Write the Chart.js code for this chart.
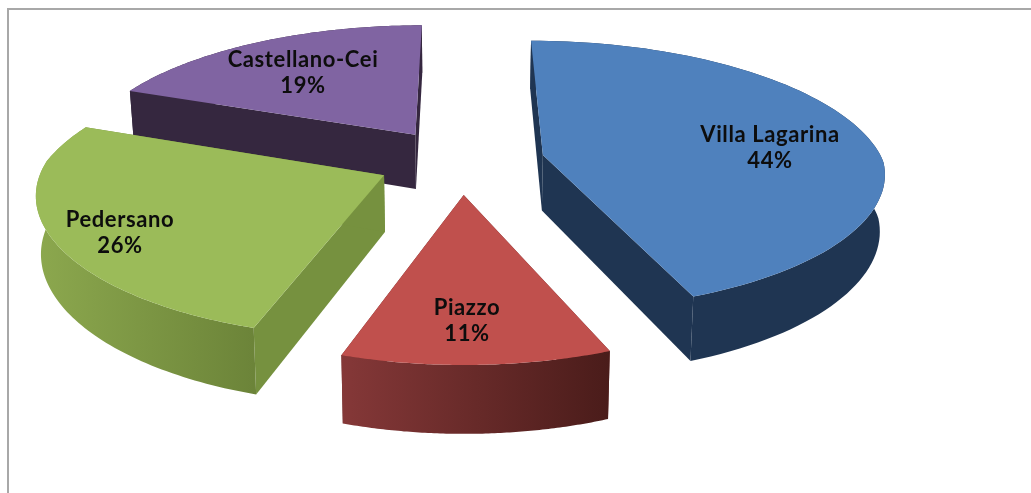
<!DOCTYPE html>
<html>
<head>
<meta charset="utf-8">
<script src="https://cdn.jsdelivr.net/npm/chart.js@4"></script>
<style>
html,body{margin:0;padding:0;background:#fff;overflow:hidden}
#wrap{position:relative;width:1031px;height:493px}
#frame{position:absolute;left:7px;top:8px;width:1040px;height:500px;border:2px solid #a8a8a8;box-sizing:border-box}
canvas{position:absolute;left:0;top:0;filter:blur(0.4px)}
</style>
</head>
<body>
<div id="wrap"><div id="frame"></div><canvas id="c" width="1031" height="493"></canvas></div>
<script>
const categories = ['Villa Lagarina', 'Piazzo', 'Pedersano', 'Castellano-Cei'];
const shares = [44, 11, 26, 19];

const topColors = ['#4F81BD', '#C0504D', '#9BBB59', '#8064A2'];
const wallColors = ['#1F3552', '#6A2B29', '#76913F', '#35273F'];
const rimGradients = [['#1F3552', '#1F3552'], ['#853838', '#4A1C1A'], ['#8CA84E', '#6C8439'], ['#35273F', '#35273F']];
const labelCenters = [[770, 148], [467, 321], [120, 233], [303, 73]];

const view = { cx: 461, cy: 161, rx: 340, ry: 133, perspY: 0.15, perspXNear: 0.12, perspXFar: 0.17, explode: 0.247, height: 56, converge: 0.988 };

function project(X, Z, lower) {
  const wy = 1 - view.perspY * Z;
  const wx = 1 - (Z > 0 ? view.perspXNear : view.perspXFar) * Z;
  let sx = view.cx + view.rx * X / wx;
  let sy = view.cy + view.ry * Z / wy;
  if (lower) {
    sx = view.cx + (sx - view.cx) * view.converge;
    sy += view.height / wy;
  }
  return [sx, sy];
}

const pie3d = {
  id: 'pie3d',
  beforeDatasetDraw(chart) {
    const ctx = chart.ctx;
    const arcs = chart.getDatasetMeta(0).data;
    const slices = arcs.map((arc, i) => {
      const a0 = arc.startAngle + Math.PI / 2, a1 = arc.endAngle + Math.PI / 2;
      const mid = (a0 + a1) / 2;
      const ox = view.explode * Math.sin(mid), oz = -view.explode * Math.cos(mid);
      return { i, a0, a1, ox, oz };
    }).sort((p, q) => p.oz - q.oz);

    const poly = (pts, fill) => {
      ctx.beginPath();
      pts.forEach((p, k) => k ? ctx.lineTo(p[0], p[1]) : ctx.moveTo(p[0], p[1]));
      ctx.closePath();
      ctx.fillStyle = fill;
      ctx.fill();
    };

    ctx.save();
    for (const s of slices) {
      const rimAt = lower => {
        const pts = [];
        for (let k = 0; k <= 90; k++) {
          const t = s.a0 + (s.a1 - s.a0) * k / 90;
          pts.push(project(s.ox + Math.sin(t), s.oz - Math.cos(t), lower));
        }
        return pts;
      };
      const topRim = rimAt(false), lowRim = rimAt(true);
      const apexT = project(s.ox, s.oz, false), apexL = project(s.ox, s.oz, true);
      const first = 0, last = topRim.length - 1;

      // radial walls
      poly([apexT, topRim[first], lowRim[first], apexL], wallColors[s.i]);
      poly([apexT, topRim[last], lowRim[last], apexL], wallColors[s.i]);

      // curved outer wall, shaded left to right
      const xs = topRim.map(p => p[0]);
      const g = ctx.createLinearGradient(Math.min(...xs), 0, Math.max(...xs), 0);
      g.addColorStop(0, rimGradients[s.i][0]);
      g.addColorStop(1, rimGradients[s.i][1]);
      poly(topRim.concat(lowRim.slice().reverse()), g);

      // top face
      poly([apexT].concat(topRim), topColors[s.i]);
    }

    ctx.fillStyle = '#0d0d0d';
    ctx.font = 'bold 22px Lato, "Open Sans", sans-serif';
    ctx.textAlign = 'center';
    ctx.textBaseline = 'middle';
    try { ctx.letterSpacing = '0.6px'; } catch (e) {}
    const total = shares.reduce((a, b) => a + b, 0);
    categories.forEach((name, i) => {
      const [x, y] = labelCenters[i];
      ctx.fillText(name, x, y - 13);
      ctx.fillText(Math.round(shares[i] / total * 100) + '%', x, y + 13);
    });
    ctx.restore();
    return false;
  }
};

new Chart(document.getElementById('c'), {
  type: 'pie',
  data: {
    labels: categories,
    datasets: [{ data: shares, backgroundColor: topColors, borderWidth: 0 }]
  },
  options: {
    responsive: false,
    animation: false,
    plugins: { legend: { display: false }, tooltip: { enabled: false } }
  },
  plugins: [pie3d]
});
</script>
</body>
</html>
